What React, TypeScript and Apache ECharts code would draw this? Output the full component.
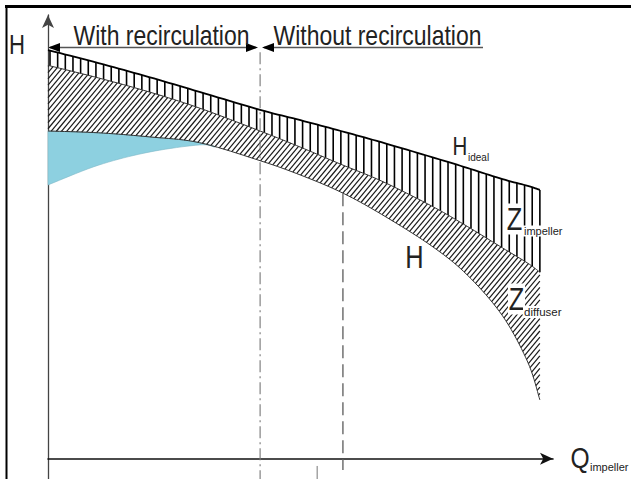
import React, { useEffect, useRef } from "react";
import * as echarts from "echarts";

// Flow (arbitrary units, 0 = H axis, 100 = arrow tip)
const Q_PTS = [0, 10, 20, 30, 42, 50, 58, 66, 76, 83, 90, 95, 97.4];
// Ideal head
const H_IDEAL = [90.9, 88.0, 84.9, 81.6, 77.6, 75.3, 72.9, 70.4, 67.1, 64.7, 62.2, 60.7, 59.8];
// Ideal head minus impeller losses
const H_MID = [87.5, 84.7, 81.6, 78.0, 72.9, 69.3, 65.5, 61.8, 56.2, 51.7, 46.9, 43.5, 41.5];
// Real head H
const H_REAL = [72.9, 72.5, 71.6, 70.3, 66.3, 63.1, 59.3, 54.4, 47.3, 40.9, 31.8, 21.5, 13.1];
// Recirculation zone lower boundary (blue)
const BLUE_Q = [0, 10, 20, 30, 33];
const BLUE_H = [60.9, 65.3, 68.2, 69.8, 69.3];
// Vertical reference lines
const RECIRC_Q = 42;
const RECIRC_TOP = 90.4;
const DASH_Q = 58.4;
const AXIS_MIN_H = -4.5;
const AXIS_MAX_H = 98.7;

const SANS = '"Liberation Sans", Arial, sans-serif';
const NARROW_SCALE = 0.82;

type P = number[];

function catmull(pts: P[], seg = 10): P[] {
  const out: P[] = [];
  for (let i = 0; i < pts.length - 1; i++) {
    const p0 = pts[Math.max(0, i - 1)];
    const p1 = pts[i];
    const p2 = pts[i + 1];
    const p3 = pts[Math.min(pts.length - 1, i + 2)];
    for (let s = 0; s < seg; s++) {
      const t = s / seg;
      const t2 = t * t;
      const t3 = t2 * t;
      const f = (k: number) =>
        0.5 *
        (2 * p1[k] +
          (-p0[k] + p2[k]) * t +
          (2 * p0[k] - 5 * p1[k] + 4 * p2[k] - p3[k]) * t2 +
          (-p0[k] + 3 * p1[k] - 3 * p2[k] + p3[k]) * t3);
      out.push([f(0), f(1)]);
    }
  }
  out.push(pts[pts.length - 1]);
  return out;
}

function interp(c: P[], x: number): number {
  if (x <= c[0][0]) return c[0][1];
  for (let i = 0; i < c.length - 1; i++) {
    const a = c[i];
    const b = c[i + 1];
    if (x >= a[0] && x <= b[0]) {
      const d = b[0] - a[0];
      if (d <= 1e-9) return a[1];
      return a[1] + ((b[1] - a[1]) * (x - a[0])) / d;
    }
  }
  return c[c.length - 1][1];
}

function root(fn: (x: number) => number, lo: number, hi: number): number {
  let a = lo;
  let b = hi;
  for (let i = 0; i < 40; i++) {
    const m = (a + b) / 2;
    if (fn(m) > 0) a = m;
    else b = m;
  }
  return (a + b) / 2;
}

function renderItem(_params: any, api: any) {
  const toPx = (qs: number[], hs: number[]) => qs.map((q, i) => api.coord([q, hs[i]]) as P);
  const ideal = catmull(toPx(Q_PTS, H_IDEAL));
  const mid = catmull(toPx(Q_PTS, H_MID));
  const real = catmull(toPx(Q_PTS, H_REAL));
  const blue = catmull(toPx(BLUE_Q, BLUE_H));
  const xa = ideal[0][0];
  const xb = ideal[ideal.length - 1][0];
  const children: any[] = [];

  // blue recirculation zone
  const joinX = blue[blue.length - 1][0];
  const top = real.filter((p) => p[0] < joinX);
  top.push([joinX, interp(real, joinX)]);
  const poly = [...top, ...blue.slice().reverse()];
  children.push({ type: "polygon", shape: { points: poly }, style: { fill: "#8dd0e0", stroke: "#7fb9c8", lineWidth: 0.6 } });

  // vertical hatch between ideal and mid (impeller losses)
  const n = Math.round((xb - xa - 2) / 7.7);
  const step = (xb - xa - 2) / n;
  for (let i = 0; i <= n; i++) {
    const x = xa + 2 + i * step;
    children.push({
      type: "line",
      shape: { x1: x, y1: interp(ideal, x), x2: x, y2: interp(mid, x) },
      style: { stroke: "#000", lineWidth: 1.6 },
    });
  }

  // diagonal hatch between mid and real (diffuser losses)
  const k = 1.2;
  const sp = 5.2;
  const U = (x: number) => interp(mid, x);
  const L = (x: number) => interp(real, x);
  const cmin = U(xa) + k * xa;
  const cmax = L(xb) + k * xb;
  for (let c = cmin + 1; c < cmax; c += k * sp) {
    const f = (x: number) => c - k * x - U(x);
    const g = (x: number) => c - k * x - L(x);
    let x0: number;
    if (g(xa) <= 0) x0 = xa;
    else if (g(xb) > 0) continue;
    else x0 = root(g, xa, xb);
    let x1: number;
    if (f(xb) >= 0) x1 = xb;
    else if (f(xa) < 0) continue;
    else x1 = root(f, xa, xb);
    if (x1 - x0 < 0.3) continue;
    children.push({
      type: "line",
      shape: { x1: x0, y1: c - k * x0, x2: x1, y2: c - k * x1 },
      style: { stroke: "#1a1a1a", lineWidth: 1.2 },
    });
  }

  // curves
  children.push({ type: "polyline", shape: { points: ideal }, style: { stroke: "#000", lineWidth: 1.8, fill: "none" } });
  children.push({ type: "polyline", shape: { points: mid }, style: { stroke: "#333", lineWidth: 1, fill: "none" } });
  children.push({ type: "polyline", shape: { points: real }, style: { stroke: "#333", lineWidth: 1, fill: "none" } });

  // recirculation limit (dash-dot) and dashed line
  const r0 = api.coord([RECIRC_Q, RECIRC_TOP]);
  const r1 = api.coord([RECIRC_Q, AXIS_MIN_H]);
  children.push({
    type: "line",
    shape: { x1: r0[0], y1: r0[1], x2: r1[0], y2: r1[1] },
    style: { stroke: "#777", lineWidth: 1.1, lineDash: [12, 4, 2, 4] },
  });
  const dq = api.coord([DASH_Q, 0]);
  const dTop = interp(real, dq[0]);
  const dBot = api.coord([DASH_Q, -2.5]);
  children.push({
    type: "line",
    shape: { x1: dq[0], y1: dTop, x2: dq[0], y2: dBot[1] },
    style: { stroke: "#666", lineWidth: 1.4, lineDash: [13, 6] },
  });
  const t0 = api.coord([53.3, -1.6]);
  const t1 = api.coord([53.3, AXIS_MIN_H]);
  children.push({
    type: "line",
    shape: { x1: t0[0], y1: t0[1], x2: t1[0], y2: t1[1] },
    style: { stroke: "#777", lineWidth: 1 },
  });

  return { type: "group", children };
}

function txt(text: string, x: number, y: number, size: number, narrow: boolean, align = "center", bg?: string) {
  const style: any = {
    text,
    fontSize: size,
    fontFamily: SANS,
    fill: "#222",
    align,
    textAlign: align,
    verticalAlign: "middle",
    textVerticalAlign: "middle",
  };
  if (bg) {
    style.backgroundColor = bg;
    style.padding = [0, 1];
  }
  const el: any = { type: "text", x, y, z: 100, style };
  if (narrow) {
    el.scaleX = NARROW_SCALE;
  }
  return el;
}

export default function App() {
  const ref = useRef<HTMLDivElement>(null);
  useEffect(() => {
    if (!ref.current) return;
    const chart = echarts.init(ref.current, undefined, { renderer: "svg" });
    const axisCommon = {
      type: "value",
      axisTick: { show: false },
      axisLabel: { show: false },
      splitLine: { show: false },
    };
    chart.setOption({
      animation: false,
      backgroundColor: "#fff",
      grid: { left: 48, right: 78, top: 15, bottom: 0, containLabel: false, outerBoundsMode: "none" },
      xAxis: {
        ...axisCommon,
        min: 0,
        max: 100,
        axisLine: {
          show: true,
          onZero: true,
          symbol: ["none", "arrow"],
          symbolSize: [9, 13],
          lineStyle: { color: "#111", width: 1.6 },
        },
      },
      yAxis: {
        ...axisCommon,
        min: AXIS_MIN_H,
        max: AXIS_MAX_H,
        axisLine: {
          show: true,
          onZero: false,
          symbol: ["none", "arrow"],
          symbolSize: [9, 13],
          lineStyle: { color: "#444", width: 1.3 },
        },
      },
      series: [
        {
          type: "custom",
          coordinateSystem: "cartesian2d",
          data: [[0, 0]],
          renderItem,
          silent: true,
          clip: false,
          z: 1,
        },
      ],
      graphic: [
        // frame
        { type: "line", shape: { x1: 5, y1: 6.5, x2: 631, y2: 6.5 }, style: { stroke: "#000", lineWidth: 3 }, z: 100 },
        { type: "rect", shape: { x: 5.5, y: 5, width: 2, height: 474 }, style: { fill: "#000" }, z: 100 },
        // region arrows
        { type: "line", shape: { x1: 50, y1: 47.5, x2: 256, y2: 47.5 }, style: { stroke: "#555", lineWidth: 1.6 } },
        { type: "line", shape: { x1: 264, y1: 47.5, x2: 483, y2: 47.5 }, style: { stroke: "#555", lineWidth: 1.6 } },
        { type: "polygon", shape: { points: [[48, 47.5], [60, 43], [60, 52]] }, style: { fill: "#000" } },
        { type: "polygon", shape: { points: [[258, 47.5], [246, 43], [246, 52]] }, style: { fill: "#000" } },
        { type: "polygon", shape: { points: [[262, 47.5], [274, 43], [274, 52]] }, style: { fill: "#000" } },
        txt("With recirculation", 161.5, 35, 28, true),
        txt("Without recirculation", 377.5, 35, 28, true),
        txt("H", 17, 45, 27, true),
        txt("H", 460, 146, 25, true),
        txt("ideal", 468, 157, 10, false, "left"),
        txt("Z", 514.5, 219, 31, true, "center", "#fff"),
        txt("impeller", 523, 231, 11, false, "left", "#fff"),
        txt("H", 414.5, 257, 31, true),
        txt("Z", 516.5, 299, 31, true, "center", "#fff"),
        txt("diffuser", 523, 312, 11.5, false, "left", "#fff"),
        txt("Q", 580, 458, 30, true),
        txt("impeller", 590, 467, 11, false, "left"),
      ],
    });
    return () => chart.dispose();
  }, []);
  return (
    <div style={{ position: "absolute", left: 0, top: 0, width: 631, height: 479 }}>
      <div ref={ref} style={{ position: "absolute", left: 0, top: 0, width: 631, height: 479 }} />
      <div
        style={{
          position: "absolute",
          left: 5,
          top: 5,
          width: 626,
          height: 3,
          background: "#000",
          pointerEvents: "none",
        }}
      />
    </div>
  );
}
